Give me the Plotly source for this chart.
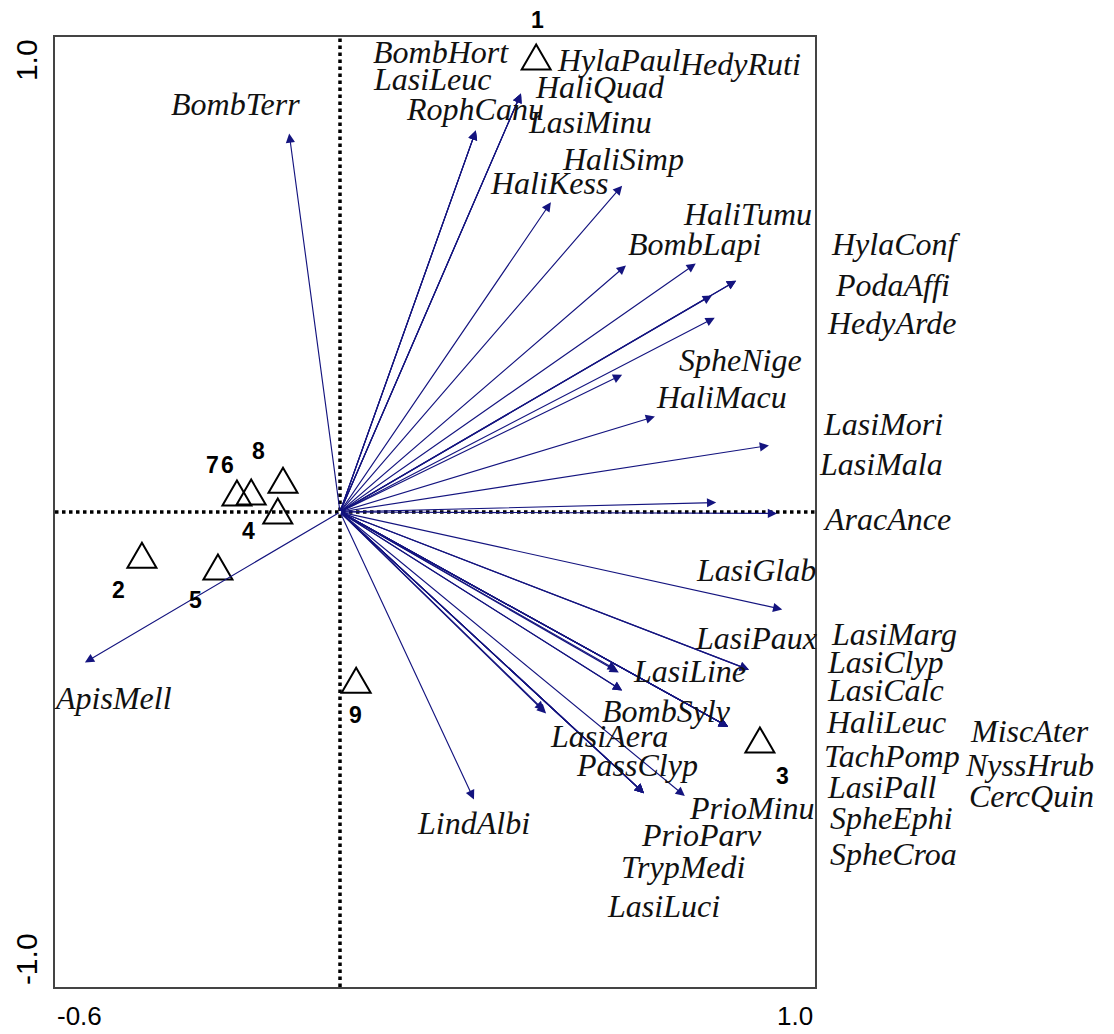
import plotly.graph_objects as go

# ---- species scores (arrow tips) and label placements, ordination axes 1/2 ----
species = [
    "BombTerr", "BombHort", "LasiLeuc", "RophCanu", "HylaPaul", "HaliQuad", "LasiMinu",
    "HaliKess", "HaliSimp", "BombLapi", "HaliTumu", "HedyRuti", "HylaConf", "PodaAffi",
    "HedyArde", "SpheNige", "HaliMacu", "LasiMori", "LasiMala", "AracAnce",
    "ApisMell", "LindAlbi", "LasiGlab", "LasiPaux", "LasiMarg", "LasiLine", "LasiClyp",
    "BombSylv", "LasiCalc", "HaliLeuc", "TachPomp", "MiscAter", "NyssHrub", "CercQuin",
    "LasiPall", "LasiAera", "SpheEphi", "PassClyp", "PrioParv", "TrypMedi", "LasiLuci",
    "SpheCroa", "PrioMinu",
]
arrow_x = [
    -0.107, 0.286, 0.286, 0.286, 0.381, 0.381, 0.381,
    0.444, 0.594, 0.602, 0.749, 0.834, 0.834, 0.783,
    0.789, 0.594, 0.663, 0.903, 0.792, 0.920,
    -0.537, 0.282, 0.931, 0.861, 0.861, 0.587, 0.583,
    0.594, 0.594, 0.817, 0.817, 0.817, 0.817, 0.817,
    0.817, 0.434, 0.430, 0.640, 0.640, 0.640, 0.640,
    0.640, 0.726,
]
arrow_y = [
    0.797, 0.803, 0.803, 0.803, 0.881, 0.881, 0.881,
    0.652, 0.687, 0.519, 0.523, 0.487, 0.487, 0.456,
    0.409, 0.289, 0.201, 0.140, 0.020, -0.003,
    -0.317, -0.605, -0.205, -0.332, -0.332, -0.338, -0.333,
    -0.376, -0.376, -0.452, -0.452, -0.452, -0.452, -0.452,
    -0.452, -0.424, -0.418, -0.592, -0.592, -0.592, -0.592,
    -0.592, -0.598,
]
label_x = [
    -0.219, 0.213, 0.194, 0.284, 0.587, 0.547, 0.526,
    0.440, 0.596, 0.747, 0.857, 0.842, 1.171, 1.164,
    1.162, 0.844, 0.804, 1.143, 1.139, 1.152,
    -0.478, 0.282, 0.876, 0.876, 1.166, 0.735, 1.149,
    0.688, 1.149, 1.149, 1.162, 1.451, 1.451, 1.455,
    1.141, 0.566, 1.162, 0.625, 0.762, 0.722, 0.682,
    1.166, 0.867,
]
label_y = [
    0.858, 0.969, 0.911, 0.849, 0.951, 0.894, 0.822,
    0.692, 0.744, 0.565, 0.628, 0.944, 0.565, 0.477,
    0.397, 0.319, 0.243, 0.186, 0.100, -0.014,
    -0.391, -0.654, -0.123, -0.266, -0.256, -0.334, -0.315,
    -0.418, -0.374, -0.443, -0.513, -0.462, -0.532, -0.597,
    -0.578, -0.471, -0.645, -0.532, -0.679, -0.748, -0.830,
    -0.721, -0.624,
]

# ---- sample (site) scores ----
sites = ["1", "2", "3", "4", "5", "6", "7", "8", "9"]
site_x = [0.413, -0.417, 0.884, -0.131, -0.257, -0.187, -0.217, -0.120, 0.034]
site_y = [0.957, -0.092, -0.481, 0.001, -0.117, 0.041, 0.039, 0.066, -0.355]
site_label_x = [0.415, -0.467, 0.931, -0.192, -0.305, -0.236, -0.269, -0.171, 0.032]
site_label_y = [1.035, -0.165, -0.555, -0.039, -0.186, 0.098, 0.098, 0.129, -0.428]

# ---- axis extremes ----
x_range = [-0.6, 1.0]
y_range = [-1.0, 1.0]
x_tick_text = ["-0.6", "1.0"]
y_tick_text = ["-1.0", "1.0"]

ARROW = "#14147f"
SERIF = "Liberation Serif, Times New Roman, serif"
SANS = "Liberation Sans, Arial, sans-serif"


def to_paper(x, y):
    """Map axis coordinates to paper fractions so labels may sit outside the frame."""
    px = (x - x_range[0]) / (x_range[1] - x_range[0])
    py = (y - y_range[0]) / (y_range[1] - y_range[0])
    return px, py


fig = go.Figure()
# invisible trace so the axes are drawn
fig.add_trace(go.Scatter(x=[x_range[0]], y=[y_range[0]], mode="markers",
                         marker=dict(opacity=0), hoverinfo="skip", showlegend=False))

shapes = [
    dict(type="line", xref="x", yref="paper", x0=0, x1=0, y0=0, y1=1,
         line=dict(color="black", width=3.5, dash="dot"), layer="below"),
    dict(type="line", xref="paper", yref="y", x0=0, x1=1, y0=0, y1=0,
         line=dict(color="black", width=3.5, dash="dot"), layer="below"),
]
# open triangles for the samples
for sx, sy in zip(site_x, site_y):
    shapes.append(dict(type="path", xref="x", yref="y",
                       xsizemode="pixel", ysizemode="pixel", xanchor=sx, yanchor=sy,
                       path="M-14.5,-12 L14.5,-12 L0,13 Z",
                       line=dict(color="black", width=2), fillcolor="rgba(0,0,0,0)"))

annotations = []
# species arrows from the origin
for tx, ty in zip(arrow_x, arrow_y):
    annotations.append(dict(x=tx, y=ty, ax=0, ay=0, xref="x", yref="y",
                            axref="x", ayref="y", text="", showarrow=True,
                            arrowhead=2, arrowsize=1.6, arrowwidth=1.15,
                            arrowcolor=ARROW, standoff=0, startstandoff=0))
# species names
for name, lx, ly in zip(species, label_x, label_y):
    px, py = to_paper(lx, ly)
    annotations.append(dict(x=px, y=py, xref="paper", yref="paper", text=name,
                            showarrow=False, xanchor="center", yanchor="middle",
                            font=dict(family=SERIF, size=32, color="#111111", style="italic")))
# sample numbers
for s, lx, ly in zip(sites, site_label_x, site_label_y):
    px, py = to_paper(lx, ly)
    annotations.append(dict(x=px, y=py, xref="paper", yref="paper", text=s,
                            showarrow=False, xanchor="center", yanchor="middle",
                            font=dict(family=SANS, size=23, color="black", weight="bold")))
# axis end labels
annotations.append(dict(x=x_range[0], y=-0.031, xref="x", yref="paper", text=x_tick_text[0],
                        showarrow=False, xanchor="left", yanchor="middle",
                        font=dict(family=SANS, size=26, color="black")))
annotations.append(dict(x=x_range[1], y=-0.031, xref="x", yref="paper", text=x_tick_text[1],
                        showarrow=False, xanchor="right", yanchor="middle",
                        font=dict(family=SANS, size=26, color="black")))
annotations.append(dict(x=-0.038, y=y_range[0], xref="paper", yref="y", text=y_tick_text[0],
                        showarrow=False, textangle=-90, xanchor="center", yanchor="bottom",
                        font=dict(family=SANS, size=30, color="black")))
annotations.append(dict(x=-0.038, y=y_range[1], xref="paper", yref="y", text=y_tick_text[1],
                        showarrow=False, textangle=-90, xanchor="center", yanchor="top",
                        font=dict(family=SANS, size=30, color="black")))

fig.update_layout(
    width=1114, height=1034,
    margin=dict(l=55, r=299, t=37, b=47),
    paper_bgcolor="white", plot_bgcolor="white",
    showlegend=False,
    shapes=shapes,
    annotations=annotations,
    xaxis=dict(range=x_range, showgrid=False, zeroline=False, showticklabels=False,
               ticks="", showline=True, mirror=True, linecolor="#444444", linewidth=1.5,
               fixedrange=True),
    yaxis=dict(range=y_range, showgrid=False, zeroline=False, showticklabels=False,
               ticks="", showline=True, mirror=True, linecolor="#444444", linewidth=1.5,
               fixedrange=True),
)

fig.write_html("out.html")
